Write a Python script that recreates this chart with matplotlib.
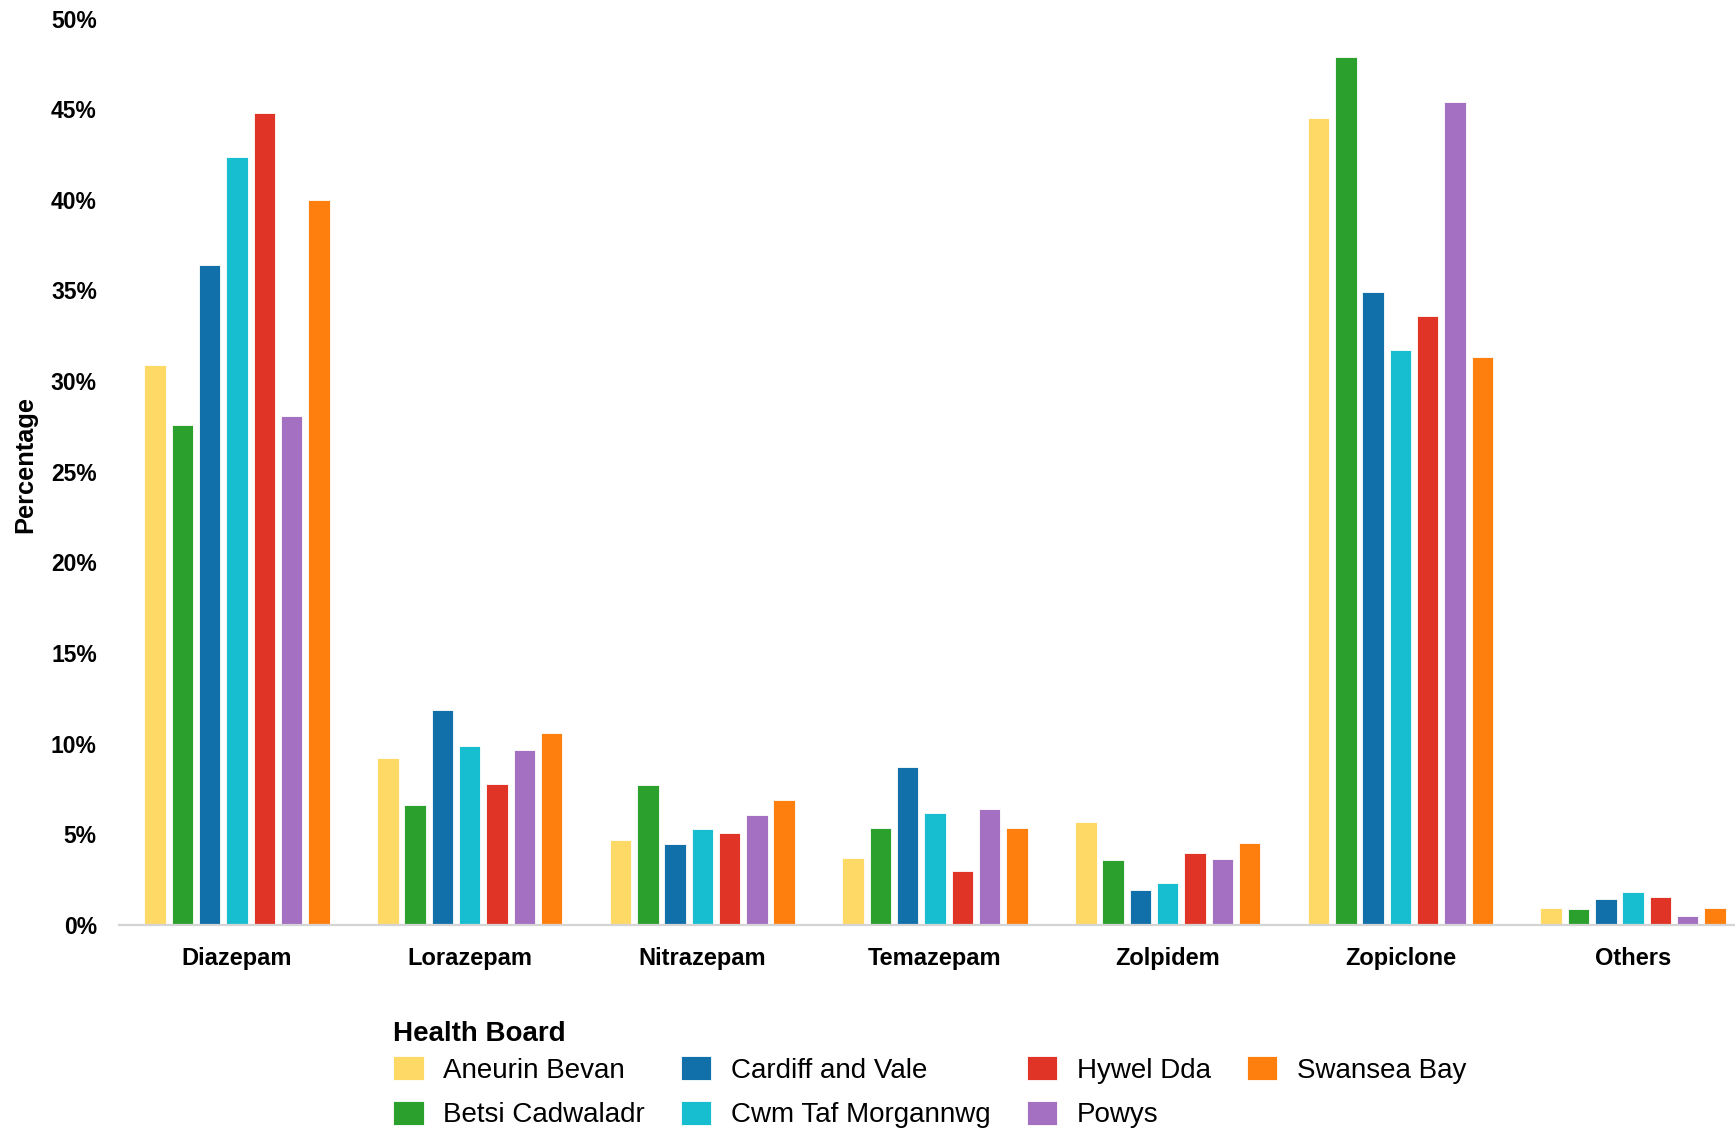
import matplotlib
matplotlib.use("Agg")
import matplotlib.pyplot as plt
import numpy as np

# Share of benzodiazepine / Z-drug prescribing by health board
drugs = ["Diazepam", "Lorazepam", "Nitrazepam", "Temazepam", "Zolpidem", "Zopiclone", "Others"]
boards = ["Aneurin Bevan", "Betsi Cadwaladr", "Cardiff and Vale", "Cwm Taf Morgannwg",
          "Hywel Dda", "Powys", "Swansea Bay"]

aneurin_bevan = [30.9, 9.2, 4.7, 3.7, 5.7, 44.5, 0.92]
betsi_cadwaladr = [27.6, 6.6, 7.7, 5.35, 3.6, 47.9, 0.86]
cardiff_and_vale = [36.4, 11.85, 4.45, 8.7, 1.95, 34.9, 1.45]
cwm_taf_morgannwg = [42.35, 9.9, 5.3, 6.2, 2.3, 31.7, 1.82]
hywel_dda = [44.8, 7.8, 5.05, 3.0, 3.95, 33.6, 1.53]
powys = [28.1, 9.65, 6.05, 6.4, 3.65, 45.4, 0.47]
swansea_bay = [40.0, 10.6, 6.9, 5.35, 4.55, 31.35, 0.95]

series = [aneurin_bevan, betsi_cadwaladr, cardiff_and_vale, cwm_taf_morgannwg,
          hywel_dda, powys, swansea_bay]
colors = ["#FFD966", "#2CA02C", "#1170AA", "#17BECF", "#E03426", "#A470C2", "#FF7F0E"]

yticks = [0, 5, 10, 15, 20, 25, 30, 35, 40, 45, 50]

plt.rcParams["font.family"] = ["Liberation Sans", "DejaVu Sans"]

fig = plt.figure(figsize=(17.35, 11.29), dpi=100)
ax = fig.add_axes([0.0686, 0.1807, 0.9314, 0.8029])

x = np.arange(len(drugs))
pitch = 0.1173
width = 0.0924
n = len(series)
for i, (vals, col, name) in enumerate(zip(series, colors, boards)):
    offs = (i - (n - 1) / 2) * pitch
    ax.bar(x + offs, vals, width=width, color=col, edgecolor="white",
           linewidth=0.6, label=name)

ax.set_xlim(-0.507, 6.438)
ax.set_ylim(0, 50)
ax.set_yticks(yticks)
ax.set_yticklabels([f"{v}%" for v in yticks], fontsize=16.5, fontweight="bold")
ax.set_xticks(x)
ax.set_xticklabels(drugs, fontsize=17, fontweight="bold")
ax.tick_params(axis="both", length=0)
ax.tick_params(axis="y", pad=16)
ax.tick_params(axis="x", pad=16)

for side in ["top", "right", "left"]:
    ax.spines[side].set_visible(False)
ax.spines["bottom"].set_color("#D4D4D4")
ax.spines["bottom"].set_linewidth(1.6)

ax.set_ylabel("Percentage", fontsize=18.3, fontweight="bold")
ax.yaxis.set_label_coords(-0.0505, 0.508)

# Legend block: bold heading above a two-row, four-column key
fig.text(0.2265, 0.0839, "Health Board", fontsize=20, fontweight="bold",
         ha="left", va="center")
leg = fig.legend(loc="center left", bbox_to_anchor=(0.2265, 0.0325), ncol=4,
                 frameon=False, fontsize=20,
                 handlelength=1.1, handleheight=0.95,
                 handletextpad=0.7, columnspacing=1.3, labelspacing=0.61,
                 borderpad=0, borderaxespad=0)

fig.savefig("out.png", dpi=100)
